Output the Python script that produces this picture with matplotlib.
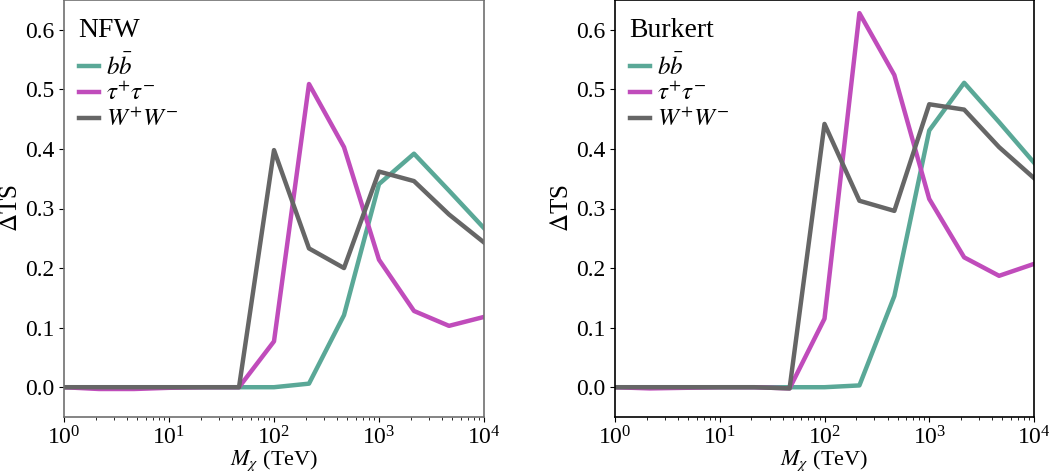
import numpy as np
import matplotlib
matplotlib.use("Agg")
import matplotlib.pyplot as plt

plt.rcParams['font.family'] = ['Liberation Serif', 'DejaVu Serif']
plt.rcParams['mathtext.fontset'] = 'stix'

mass = [1.0, 2.154, 4.642, 10.0, 21.54, 46.42, 100.0, 215.4, 464.2, 1000.0, 2154.0, 4642.0, 10000.0]

nfw_bb = [0.0, 0.0, 0.0, 0.0, 0.0, 0.0, 0.0, 0.006, 0.121, 0.341, 0.392, 0.330, 0.267]
nfw_tau = [0.0, -0.003, -0.003, -0.001, 0.0, 0.0, 0.077, 0.509, 0.403, 0.214, 0.128, 0.103, 0.118]
nfw_ww = [0.0, 0.0, 0.0, 0.0, 0.0, 0.0, 0.398, 0.233, 0.200, 0.362, 0.346, 0.290, 0.243]

bur_bb = [0.0, 0.0, 0.0, 0.0, 0.0, 0.0, 0.0, 0.003, 0.153, 0.431, 0.511, 0.445, 0.377]
bur_tau = [0.0, -0.002, -0.001, 0.0, 0.0, -0.002, 0.115, 0.628, 0.524, 0.316, 0.218, 0.187, 0.207]
bur_ww = [0.0, 0.0, 0.0, 0.0, 0.0, -0.002, 0.442, 0.313, 0.296, 0.475, 0.466, 0.403, 0.351]

labels = [r'$b\bar{b}$', r'$\tau^{+}\tau^{-}$', r'$W^{+}W^{-}$']
colors = ['#5aa897', '#c04cbb', '#666666']
titles = ['NFW', 'Burkert']

fig = plt.figure(figsize=(10.54, 4.74), dpi=100)
ax1 = fig.add_axes([64/1054, 57/474, 420/1054, 417/474])
ax2 = fig.add_axes([615/1054, 57/474, 419/1054, 417/474])

for ax, data, title, spc in [(ax1, [nfw_bb, nfw_tau, nfw_ww], titles[0], '#707070'),
                             (ax2, [bur_bb, bur_tau, bur_ww], titles[1], 'black')]:
    for y, lab, c in zip(data, labels, colors):
        ax.plot(mass, y, color=c, lw=3.2, label=lab)
    ax.set_xscale('log')
    ax.set_xlim(1, 1e4)
    ax.set_ylim(-0.05, 0.65)
    ax.set_yticks([0.0, 0.1, 0.2, 0.3, 0.4, 0.5, 0.6])
    ax.set_xlabel(r'$M_{\chi}$ (TeV)', fontsize=16, labelpad=-1)
    ax.set_ylabel(r'$\Delta$TS', fontsize=18, labelpad=2)
    ax.tick_params(labelsize=17)
    ax.text(0.033, 0.958, title, transform=ax.transAxes, fontsize=20, va='top', ha='left')
    leg = ax.legend(loc='upper left', bbox_to_anchor=(0.035, 0.872), frameon=False,
                    fontsize=18, handlelength=0.8, handletextpad=0.3, labelspacing=0.1,
                    borderaxespad=0, borderpad=0)
    for sp in ax.spines.values():
        sp.set_color(spc)
        sp.set_linewidth(1.2)

fig.savefig('out.png', dpi=100)
